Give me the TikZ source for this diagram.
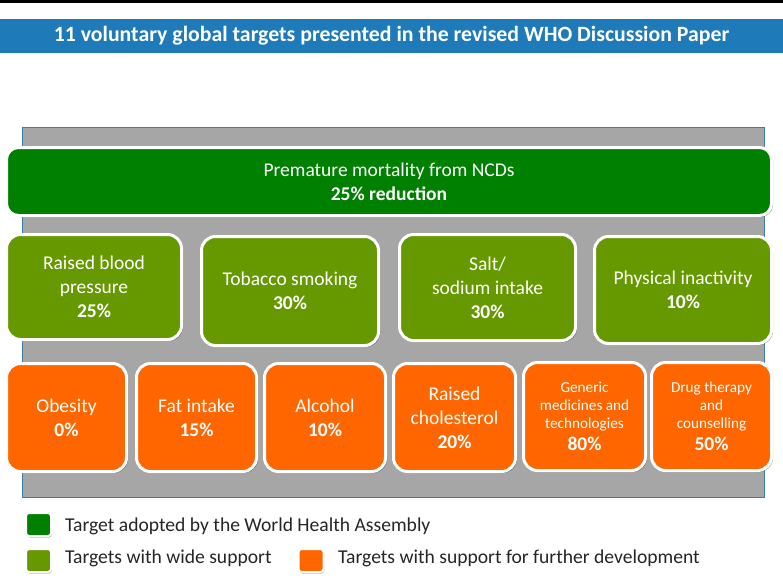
\documentclass[tikz,border=0pt]{standalone}
\usepackage{fontspec}
\setmainfont{Carlito}
\usetikzlibrary{shadows}
\definecolor{bannerblue}{RGB}{31,122,186}
\definecolor{panelgray}{RGB}{166,166,166}
\definecolor{panelline}{RGB}{60,125,170}
\definecolor{darkgreen}{RGB}{0,128,0}
\definecolor{lightgreen}{RGB}{102,153,0}
\definecolor{orangec}{RGB}{255,102,0}
\newcommand{\bigpct}[1]{{\fontsize{19.5}{22}\selectfont\bfseries #1}}
\begin{document}
\begin{tikzpicture}[x=1pt,y=-1pt,
  target/.style={draw=white, line width=3pt, rounded corners=14pt, text=white,
    align=center, inner sep=0pt, font=\fontsize{19.5}{24}\selectfont,
    drop shadow={shadow xshift=1.5pt, shadow yshift=-1.5pt, opacity=0.35, fill=black}},
  wha/.style={target, fill=darkgreen, rounded corners=12pt},
  wide/.style={target, fill=lightgreen},
  further/.style={target, fill=orangec},
  smallfurther/.style={further, font=\fontsize{15.2}{18}\selectfont},
  legendbox/.style={draw=white, line width=2pt, rounded corners=3pt, minimum width=25pt, minimum height=23pt, inner sep=0pt,
    drop shadow={shadow xshift=0.8pt, shadow yshift=-1.5pt, opacity=0.3, fill=black}},
  legendtext/.style={anchor=west, inner sep=0pt, font=\fontsize{19.6}{22}\selectfont, text=black!85}
]
\useasboundingbox (0,0) rectangle (783,587);
\fill[white] (0,0) rectangle (783,587);
% top black line and banner
\fill[black] (0,0) rectangle (783,3);
\fill[bannerblue] (0,19) rectangle (783,53);
\node[text=white, font=\fontsize{21.8}{24}\selectfont\bfseries] (title) at (391.5,36)
  {11 voluntary global targets presented in the revised WHO Discussion Paper};
% gray panel
\draw[panelline, fill=panelgray, line width=0.8pt] (22,127) rectangle (764,497);
% top target
\node[wha, minimum width=765pt, minimum height=68pt] (mort) at (389,181.5)
  {Premature mortality from NCDs\\\textbf{25\% reduction}};
% row 2
\node[wide, minimum width=175pt, minimum height=105pt] (bp) at (94,287)
  {Raised blood\\pressure\\\textbf{25\%}};
\node[wide, minimum width=177pt, minimum height=109pt] (tob) at (290,291)
  {Tobacco smoking\\\textbf{30\%}};
\node[wide, minimum width=176pt, minimum height=106pt] (salt) at (487.5,287.5)
  {Salt/\\sodium intake\\\textbf{30\%}};
\node[wide, minimum width=177pt, minimum height=107pt] (phys) at (683,290)
  {Physical inactivity\\\textbf{10\%}};
% row 3
\node[further, minimum width=120pt, minimum height=108pt] (obes) at (66.5,417.5)
  {Obesity\\\textbf{0\%}};
\node[further, minimum width=120pt, minimum height=108pt] (fat) at (196.5,417.5)
  {Fat intake\\\textbf{15\%}};
\node[further, minimum width=121pt, minimum height=108pt] (alc) at (325,417.5)
  {Alcohol\\\textbf{10\%}};
\node[further, minimum width=122pt, minimum height=108pt] (chol) at (454.5,417.5)
  {Raised\\cholesterol\\\textbf{20\%}};
\node[smallfurther, minimum width=122pt, minimum height=108pt] (gen) at (584.5,416.5)
  {Generic\\medicines and\\technologies\\[4.5pt]\bigpct{80\%}};
\node[smallfurther, minimum width=120pt, minimum height=108pt] (drug) at (711.5,416.5)
  {Drug therapy\\and\\counselling\\[4.5pt]\bigpct{50\%}};
% legend
\node[legendbox, fill=darkgreen] (lg1) at (38.5,524.5) {};
\node[legendtext] (lt1) at (65,526) {Target adopted by the World Health Assembly};
\node[legendbox, fill=lightgreen] (lg2) at (38.5,560.5) {};
\node[legendtext] (lt2) at (65,558) {Targets with wide support};
\node[legendbox, fill=orangec] (lg3) at (311,560.5) {};
\node[legendtext] (lt3) at (338,558) {Targets with support for further development};
\end{tikzpicture}
\end{document}
